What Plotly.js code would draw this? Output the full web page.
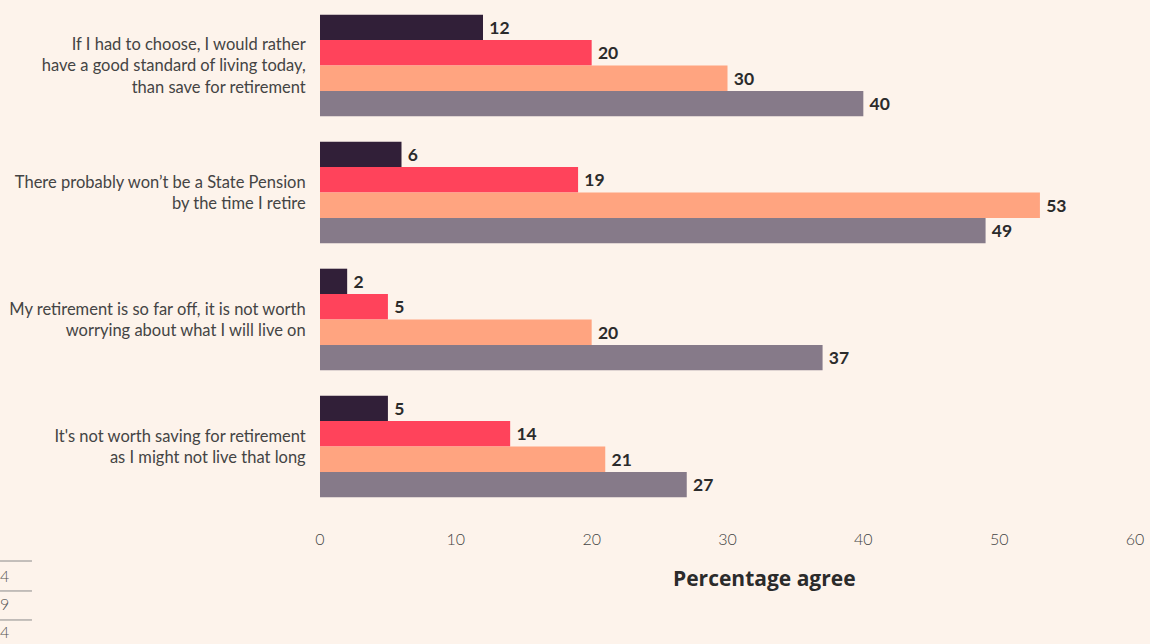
<!DOCTYPE html>
<html>
<head>
<meta charset="utf-8">
<script src="https://cdn.plot.ly/plotly-3.0.1.min.js"></script>
<style>
  html, body { margin: 0; padding: 0; background: #fdf3eb; }
  #chart { width: 1150px; height: 644px; }
</style>
</head>
<body>
<div id="chart"></div>
<script>
// Categories (top to bottom)
const categories = [
  "If I had to choose, I would rather<br>have a good standard of living today,<br>than save for retirement",
  "There probably won\u2019t be a State Pension<br>by the time I retire",
  "My retirement is so far off, it is not worth<br>worrying about what I will live on",
  "It's not worth saving for retirement<br>as I might not live that long"
];

// Series values (percentage agree), in order top bar to bottom bar in each group
const series1 = [12, 6, 2, 5];
const series2 = [20, 19, 5, 14];
const series3 = [30, 53, 20, 21];
const series4 = [40, 49, 37, 27];

const seriesNames = ["Series 1", "Series 2", "Series 3", "Series 4"];
const seriesColors = ["#311f38", "#ff435b", "#ffa480", "#867a89"];

// Partially visible legend fragments at bottom-left
const legendFragments = ["4", "9", "4"];

const xTicks = [0, 10, 20, 30, 40, 50, 60];

const allSeries = [series1, series2, series3, series4];
const traces = allSeries.map((vals, i) => ({
  type: "bar",
  orientation: "h",
  name: seriesNames[i],
  y: categories,
  x: vals,
  marker: { color: seriesColors[i], line: { width: 0 } },
  texttemplate: "\u2009\u200a%{x}",
  textposition: "outside",
  cliponaxis: false,
  textfont: { family: "Lato, sans-serif", size: 17.5, color: "#2b2b2b", weight: 700 },
  hoverinfo: "skip"
}));

// Layout geometry (paper coords for the off-plot decorations)
const lineYs = [-0.1004, -0.1594, -0.2165];
const fragYs = [-0.128, -0.185, -0.240];
const shapes = lineYs.map(y => ({
  type: "line", xref: "paper", yref: "paper",
  x0: -0.3926, x1: -0.3534, y0: y, y1: y,
  line: { color: "#8a8a8a", width: 1 }
}));
const annotations = legendFragments.map((t, i) => ({
  xref: "paper", yref: "paper", x: -0.3926, y: fragYs[i],
  xanchor: "left", yanchor: "middle", xshift: -2,
  text: t, showarrow: false,
  font: { family: "Lato, sans-serif", size: 16, color: "#555555", weight: 300 }
}));
annotations.push({
  xref: "paper", yref: "paper", x: 0.545, y: -0.134,
  xanchor: "center", yanchor: "middle",
  text: "<b>Percentage agree</b>", showarrow: false,
  font: { family: "'Open Sans', sans-serif", size: 21, color: "#2b2b2b" }
});

const layout = {
  width: 1150, height: 644,
  margin: { l: 320, r: 15, t: 2, b: 134 },
  paper_bgcolor: "#fdf3eb",
  plot_bgcolor: "#fdf3eb",
  barmode: "group",
  bargap: 0.2,
  bargroupgap: 0,
  showlegend: false,
  font: { family: "Lato, sans-serif", color: "#444444" },
  xaxis: {
    range: [0, 60],
    tickvals: xTicks,
    ticktext: xTicks.map(String),
    showgrid: false, zeroline: false, showline: false,
    ticks: "outside", ticklen: 15, tickcolor: "rgba(0,0,0,0)",
    tickfont: { family: "Lato, sans-serif", size: 16, color: "#444444", weight: 300 },
    fixedrange: true
  },
  yaxis: {
    autorange: "reversed",
    showgrid: false, zeroline: false, showline: false,
    ticks: "outside", ticklen: 10, tickcolor: "rgba(0,0,0,0)",
    tickfont: { family: "Lato, sans-serif", size: 16.5, color: "#444444" },
    fixedrange: true
  },
  shapes: shapes,
  annotations: annotations
};

Plotly.newPlot("chart", traces, layout, { displayModeBar: false, staticPlot: true });
</script>
</body>
</html>
